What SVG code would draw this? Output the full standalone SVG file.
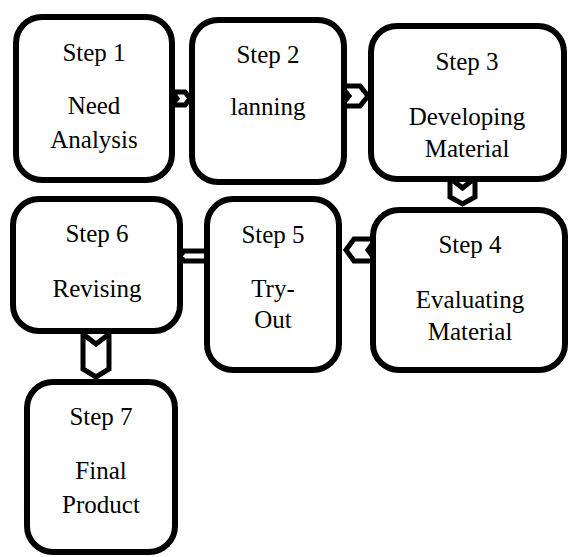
<svg xmlns="http://www.w3.org/2000/svg" width="569" height="557" viewBox="0 0 569 557">
<style>
.box{fill:#fff;stroke:#000;stroke-width:6}
.arr{fill:#fff;stroke:#000;stroke-width:5;stroke-linejoin:miter}
</style>
<rect width="569" height="557" fill="#fff"/>
<g id="connectors">
<polygon class="arr" points="172,92 177,98.5 172,105 185,105 190,98.5 185,92"/>
<polygon class="arr" points="341,86 349,96 341,106 360,106 368,96 360,86"/>
<polygon class="arr" points="450,178 462.5,188 475,178 475,197 462.5,204 450,197"/>
<polygon class="arr" points="376,239 368,250 376,261 354,261 346,250 354,239"/>
<polygon class="arr" points="211,251 207,256 211,261 184,261 180,256 184,251"/>
<polygon class="arr" points="83,334 96,344 109,334 109,369 96,377 83,369"/>
</g>
<g font-family="Liberation Serif" font-size="25" fill="#000" text-anchor="middle">
<g id="step1"><rect class="box" x="16" y="17" width="156" height="163" rx="26"/>
<text x="94" y="61">Step 1</text><text x="94" y="114">Need</text><text x="94" y="148">Analysis</text></g>
<g id="step2"><rect class="box" x="192" y="20" width="152" height="162" rx="26"/>
<text x="268" y="63">Step 2</text><text x="268" y="115">lanning</text></g>
<g id="step3"><rect class="box" x="371" y="26" width="193" height="153" rx="26"/>
<text x="467" y="70">Step 3</text><text x="467" y="125">Developing</text><text x="467" y="157">Material</text></g>
<g id="step4"><rect class="box" x="373" y="210" width="192" height="160" rx="26"/>
<text x="470" y="253">Step 4</text><text x="470" y="308">Evaluating</text><text x="470" y="340">Material</text></g>
<g id="step5"><rect class="box" x="207" y="199" width="132" height="171" rx="26"/>
<text x="273" y="243">Step 5</text><text x="273" y="297">Try-</text><text x="273" y="328">Out</text></g>
<g id="step6"><rect class="box" x="13" y="199" width="167" height="132" rx="26"/>
<text x="97" y="242">Step 6</text><text x="97" y="297">Revising</text></g>
<g id="step7"><rect class="box" x="27" y="382" width="148" height="170" rx="26"/>
<text x="101" y="425">Step 7</text><text x="101" y="479">Final</text><text x="101" y="513">Product</text></g>
</g>
</svg>
